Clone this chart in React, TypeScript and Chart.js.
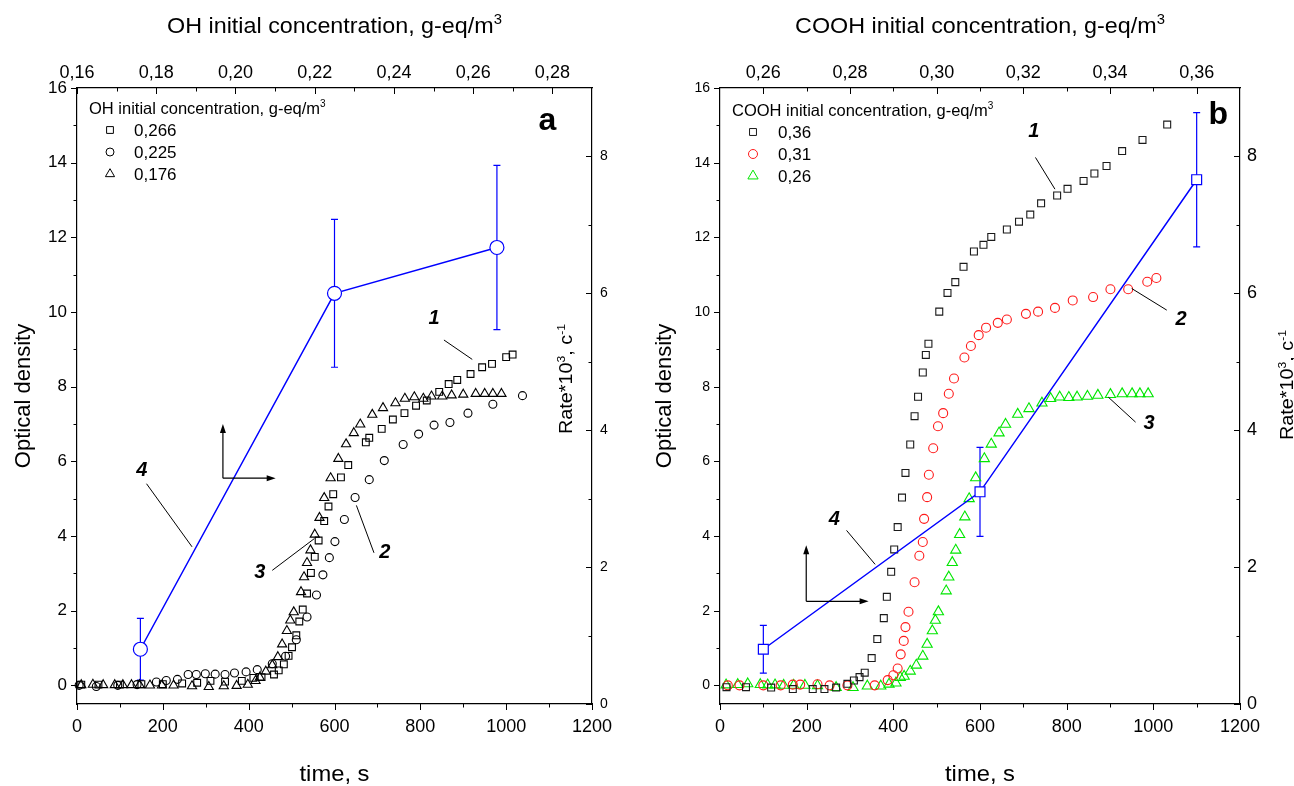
import React, { useEffect, useRef } from "react";
import { Chart, registerables } from "chart.js";

Chart.register(...registerables);

const FONT = "'Liberation Sans', Arial, Helvetica, sans-serif";

// ---------------- Panel a (OH) : optical density vs time ----------------
const aSqTime = [10, 50, 100, 150, 200, 245, 280, 311, 345, 384, 411, 430, 459, 470, 482, 493, 501, 511, 518, 526, 536, 545, 554, 563, 576, 586, 597, 615, 632, 673, 681, 710, 736, 763, 790, 815, 844, 866, 886, 917, 944, 967, 1000, 1015];
const aSqOD = [0.02, 0.02, 0.02, 0.03, 0.03, 0.05, 0.07, 0.12, 0.1, 0.12, 0.2, 0.22, 0.29, 0.4, 0.56, 0.79, 1.02, 1.34, 1.71, 2.03, 2.46, 3.01, 3.44, 3.88, 4.4, 4.79, 5.12, 5.57, 5.9, 6.51, 6.63, 6.87, 7.12, 7.29, 7.49, 7.63, 7.86, 8.07, 8.18, 8.34, 8.52, 8.61, 8.79, 8.86];

const aCiTime = [5, 45, 95, 140, 185, 208, 234, 259, 278, 299, 322, 345, 367, 394, 420, 455, 486, 511, 536, 558, 573, 588, 601, 623, 648, 681, 716, 760, 796, 832, 869, 911, 969, 1038];
const aCiOD = [0, -0.03, 0, 0.02, 0.09, 0.13, 0.16, 0.29, 0.29, 0.31, 0.3, 0.29, 0.33, 0.36, 0.42, 0.58, 0.78, 1.22, 1.83, 2.42, 2.96, 3.42, 3.85, 4.44, 5.03, 5.51, 6.02, 6.45, 6.73, 6.97, 7.04, 7.29, 7.53, 7.76];

const aTrTime = [10, 37, 61, 88, 107, 127, 146, 170, 198, 225, 268, 307, 342, 372, 398, 416, 426, 440, 455, 468, 478, 489, 497, 505, 522, 529, 536, 544, 554, 565, 576, 591, 609, 627, 645, 660, 688, 713, 742, 764, 786, 807, 826, 851, 873, 900, 929, 950, 969, 989];
const aTrOD = [0.01, 0.02, 0.01, 0.01, 0.01, 0.01, 0.01, 0, 0, 0, -0.02, -0.04, -0.02, -0.01, 0.02, 0.12, 0.21, 0.37, 0.54, 0.76, 1.1, 1.46, 1.74, 1.96, 2.5, 2.9, 3.28, 3.62, 4.04, 4.49, 5.02, 5.55, 6.07, 6.46, 6.76, 6.99, 7.25, 7.43, 7.56, 7.68, 7.72, 7.68, 7.74, 7.74, 7.77, 7.79, 7.81, 7.81, 7.81, 7.81];

// rate vs OH initial concentration (curve 4)
const aConc = [0.176, 0.225, 0.266];
const aRate = [0.8, 6.0, 6.67];
const aRateErr = [0.45, 1.08, 1.2];
const aLegendLabels = ["0,266", "0,225", "0,176"];

// ---------------- Panel b (COOH) ----------------
const bSqTime = [15, 60, 118, 168, 214, 241, 268, 294, 309, 322, 334, 350, 363, 378, 385, 395, 402, 410, 420, 428, 439, 449, 457, 468, 475, 481, 506, 525, 543, 562, 586, 608, 626, 662, 690, 716, 741, 778, 802, 839, 864, 892, 928, 975, 1032];
const bSqOD = [-0.05, -0.05, -0.06, -0.1, -0.1, -0.1, -0.06, 0.04, 0.13, 0.22, 0.34, 0.73, 1.24, 1.8, 2.37, 3.04, 3.64, 4.24, 5.03, 5.69, 6.45, 7.21, 7.73, 8.38, 8.85, 9.15, 10.01, 10.51, 10.8, 11.21, 11.62, 11.8, 12.01, 12.21, 12.42, 12.61, 12.91, 13.12, 13.3, 13.51, 13.71, 13.91, 14.31, 14.61, 15.02];

const bCiTime = [18, 45, 100, 140, 168, 185, 225, 253, 294, 357, 387, 400, 410, 417, 424, 428, 435, 449, 460, 468, 471, 478, 482, 492, 503, 515, 528, 540, 564, 579, 597, 614, 641, 662, 706, 734, 773, 814, 861, 901, 942, 986, 1007];
const bCiOD = [0, 0, 0, 0, 0.02, 0.02, 0.03, 0, 0, 0, 0.14, 0.27, 0.45, 0.83, 1.19, 1.56, 1.97, 2.76, 3.47, 3.84, 4.46, 5.04, 5.64, 6.35, 6.94, 7.29, 7.81, 8.22, 8.78, 9.09, 9.38, 9.58, 9.71, 9.8, 9.95, 10.01, 10.11, 10.31, 10.4, 10.61, 10.61, 10.81, 10.91];

const bTrTime = [14, 41, 64, 93, 110, 127, 147, 170, 196, 225, 268, 307, 340, 371, 390, 406, 416, 425, 439, 453, 468, 478, 490, 497, 504, 522, 528, 536, 544, 553, 565, 575, 590, 610, 626, 644, 659, 687, 713, 743, 763, 784, 805, 824, 848, 872, 901, 928, 951, 969, 988];
const bTrOD = [0.01, 0.02, 0.04, 0.02, 0.01, 0.01, 0, 0, 0, -0.01, -0.06, -0.06, -0.02, -0.02, 0.03, 0.06, 0.21, 0.24, 0.38, 0.54, 0.78, 1.1, 1.46, 1.74, 1.97, 2.53, 2.9, 3.29, 3.62, 4.04, 4.51, 5.0, 5.56, 6.07, 6.46, 6.76, 6.99, 7.26, 7.41, 7.56, 7.68, 7.72, 7.71, 7.72, 7.74, 7.77, 7.79, 7.81, 7.81, 7.81, 7.81];

// rate vs COOH initial concentration (curve 4)
const bConc = [0.26, 0.31, 0.36];
const bRate = [0.8, 3.1, 7.66];
const bRateErr = [0.35, 0.65, 0.98];
const bLegendLabels = ["0,36", "0,31", "0,26"];

// ---------------- ticks ----------------
const odTicks = [0, 2, 4, 6, 8, 10, 12, 14, 16];
const odMinorTicks = [1, 3, 5, 7, 9, 11, 13, 15];
const rateTicks = [0, 2, 4, 6, 8];
const rateMinorTicks = [1, 3, 5, 7];
const timeTicks = [0, 200, 400, 600, 800, 1000, 1200];
const timeMinorTicks = [100, 300, 500, 700, 900, 1100];
const ohTicks = [0.16, 0.18, 0.2, 0.22, 0.24, 0.26, 0.28];
const ohMinorTicks = [0.17, 0.19, 0.21, 0.23, 0.25, 0.27];
const coohTicks = [0.26, 0.28, 0.3, 0.32, 0.34, 0.36];
const coohMinorTicks = [0.27, 0.29, 0.31, 0.33, 0.35];

type Part = { t: string; sup?: boolean };
type MarkStyle = "rect" | "circle" | "triangle";

interface Series {
  t: number[];
  od: number[];
  style: MarkStyle;
  color: string;
  radius: number;
}

interface PanelSpec {
  left: number;
  width: number;
  yWidth: number;
  y2Width: number;
  yTickSize: number;
  y2TickSize: number;
  y2Pad: number;
  concMin: number;
  concMax: number;
  concTicks: number[];
  concMinor: number[];
  series: Series[];
  conc: number[];
  rate: number[];
  rateErr: number[];
  rateStyle: MarkStyle;
  rateRadius: number;
  topTitle: Part[];
  legendTitle: Part[];
  legendLabels: string[];
  legendX: number;
  legendTitleY: number;
  legendRowY: number[];
  legendSymX: number;
  legendTextX: number;
  leftTitleX: number;
  rateTitleX: number;
  rateTitleY: number;
  letter: string;
  letterPos: [number, number];
  numbers: { text: string; x: number; y: number }[];
  leaders: [number, number, number, number][];
  arrow: { x: number; y: number; xEnd: number; yEnd: number };
}

const BLUE = "#0000ff";

function drawRich(
  ctx: CanvasRenderingContext2D,
  parts: Part[],
  x: number,
  y: number,
  size: number,
  align: "left" | "center",
  rotate = 0,
  stretch = 1,
  weight = "normal"
) {
  ctx.save();
  ctx.translate(x, y);
  if (rotate) ctx.rotate(rotate);
  ctx.scale(stretch, 1);
  const mainFont = `${weight} ${size}px ${FONT}`;
  const supFont = `${weight} ${Math.round(size * 0.62)}px ${FONT}`;
  let w = 0;
  const widths = parts.map((p) => {
    ctx.font = p.sup ? supFont : mainFont;
    const m = ctx.measureText(p.t).width;
    w += m;
    return m;
  });
  let cx = align === "center" ? -w / 2 : 0;
  ctx.textAlign = "left";
  ctx.textBaseline = "alphabetic";
  ctx.fillStyle = "#000";
  const base = size * 0.36;
  parts.forEach((p, i) => {
    ctx.font = p.sup ? supFont : mainFont;
    ctx.fillText(p.t, cx, p.sup ? base - size * 0.42 : base);
    cx += widths[i];
  });
  ctx.restore();
}

function drawMarker(ctx: CanvasRenderingContext2D, style: MarkStyle, x: number, y: number, r: number, color: string) {
  ctx.save();
  ctx.strokeStyle = color;
  ctx.lineWidth = 1;
  ctx.beginPath();
  if (style === "circle") {
    ctx.arc(x, y, r, 0, Math.PI * 2);
  } else if (style === "rect") {
    const s = Math.SQRT1_2 * r;
    ctx.rect(x - s, y - s, 2 * s, 2 * s);
  } else {
    const a = (2 * Math.PI) / 3;
    ctx.moveTo(x, y - r);
    ctx.lineTo(x + Math.sin(a) * r, y - Math.cos(a) * r);
    ctx.lineTo(x + Math.sin(2 * a) * r, y - Math.cos(2 * a) * r);
    ctx.closePath();
  }
  ctx.stroke();
  ctx.restore();
}

function makeDecor(spec: PanelSpec) {
  return {
    id: "decor",
    beforeDatasetsDraw(chart: any) {
      const { ctx, scales } = chart;
      const sx2 = scales.x2;
      const sy2 = scales.y2;
      ctx.save();
      ctx.strokeStyle = BLUE;
      ctx.lineWidth = 1.2;
      spec.conc.forEach((c, i) => {
        const x = sx2.getPixelForValue(c);
        const yTop = sy2.getPixelForValue(spec.rate[i] + spec.rateErr[i]);
        const yBot = sy2.getPixelForValue(spec.rate[i] - spec.rateErr[i]);
        ctx.beginPath();
        ctx.moveTo(x, yTop);
        ctx.lineTo(x, yBot);
        ctx.moveTo(x - 3.5, yTop);
        ctx.lineTo(x + 3.5, yTop);
        ctx.moveTo(x - 3.5, yBot);
        ctx.lineTo(x + 3.5, yBot);
        ctx.stroke();
      });
      ctx.restore();
    },
    afterDraw(chart: any) {
      const { ctx, chartArea: ca, scales } = chart;
      const sx = scales.x;
      const sy = scales.y;
      const sx2 = scales.x2;
      const sy2 = scales.y2;
      const off = spec.left;

      // tick marks
      ctx.save();
      ctx.strokeStyle = "#000";
      ctx.lineWidth = 1;
      const MAJ = 6;
      const MIN = 3.5;
      const hMark = (scale: any, vals: number[], y0: number, dir: number, len: number) => {
        vals.forEach((v) => {
          const x = Math.round(scale.getPixelForValue(v)) + 0.5;
          ctx.beginPath();
          ctx.moveTo(x, y0);
          ctx.lineTo(x, y0 + dir * len);
          ctx.stroke();
        });
      };
      const vMark = (scale: any, vals: number[], x0: number, dir: number, len: number) => {
        vals.forEach((v) => {
          const y = Math.round(scale.getPixelForValue(v)) + 0.5;
          ctx.beginPath();
          ctx.moveTo(x0, y);
          ctx.lineTo(x0 + dir * len, y);
          ctx.stroke();
        });
      };
      vMark(sy, odTicks, ca.left, -1, MAJ);
      vMark(sy, odMinorTicks, ca.left, -1, MIN);
      vMark(sy2, rateTicks, ca.right, -1, MAJ);
      vMark(sy2, rateMinorTicks, ca.right, -1, MIN);
      hMark(sx, timeTicks, ca.bottom, 1, MAJ);
      hMark(sx, timeMinorTicks, ca.bottom, 1, MIN);
      hMark(sx2, spec.concTicks, ca.top, 1, MAJ);
      hMark(sx2, spec.concMinor, ca.top, 1, MIN);
      ctx.restore();

      const cxMid = (ca.left + ca.right) / 2;
      // axis titles
      drawRich(ctx, spec.topTitle, cxMid, 25, 22, "center", 0, 1.06);
      drawRich(ctx, [{ t: "time, s" }], cxMid, 773, 22, "center", 0, 1.08);
      drawRich(ctx, [{ t: "Optical density" }], spec.leftTitleX - off, (ca.top + ca.bottom) / 2, 22, "center", -Math.PI / 2);
      drawRich(
        ctx,
        [{ t: "Rate*10" }, { t: "3", sup: true }, { t: ", c" }, { t: "-1", sup: true }],
        spec.rateTitleX - off,
        spec.rateTitleY,
        18,
        "center",
        -Math.PI / 2,
        1.1
      );

      // legend
      drawRich(ctx, spec.legendTitle, spec.legendX - off, spec.legendTitleY, 16.5, "left");
      spec.series.forEach((s, i) => {
        drawMarker(ctx, s.style, spec.legendSymX - off, spec.legendRowY[i], s.radius, s.color);
        ctx.save();
        ctx.font = `17px ${FONT}`;
        ctx.fillStyle = "#000";
        ctx.textAlign = "left";
        ctx.textBaseline = "middle";
        ctx.fillText(spec.legendLabels[i], spec.legendTextX - off, spec.legendRowY[i] + 1);
        ctx.restore();
      });

      // curve numbers and leader lines
      ctx.save();
      ctx.fillStyle = "#000";
      ctx.font = `italic bold 20px ${FONT}`;
      ctx.textAlign = "center";
      ctx.textBaseline = "middle";
      spec.numbers.forEach((n) => {
        ctx.fillText(n.text, sx.getPixelForValue(n.x), sy.getPixelForValue(n.y));
      });
      ctx.font = `bold 32px ${FONT}`;
      ctx.fillText(spec.letter, sx.getPixelForValue(spec.letterPos[0]), sy.getPixelForValue(spec.letterPos[1]));
      ctx.strokeStyle = "#000";
      ctx.lineWidth = 1;
      spec.leaders.forEach(([x1, y1, x2, y2]) => {
        ctx.beginPath();
        ctx.moveTo(sx.getPixelForValue(x1), sy.getPixelForValue(y1));
        ctx.lineTo(sx.getPixelForValue(x2), sy.getPixelForValue(y2));
        ctx.stroke();
      });

      // axis arrows (which axis curve 4 refers to)
      const ox = sx.getPixelForValue(spec.arrow.x);
      const oy = sy.getPixelForValue(spec.arrow.y);
      const ex = sx.getPixelForValue(spec.arrow.xEnd);
      const ey = sy.getPixelForValue(spec.arrow.yEnd);
      ctx.lineWidth = 1.2;
      ctx.beginPath();
      ctx.moveTo(ox, oy);
      ctx.lineTo(ox, ey + 8);
      ctx.moveTo(ox, oy);
      ctx.lineTo(ex - 8, oy);
      ctx.stroke();
      ctx.beginPath();
      ctx.moveTo(ox, ey);
      ctx.lineTo(ox - 3, ey + 9);
      ctx.lineTo(ox + 3, ey + 9);
      ctx.closePath();
      ctx.fill();
      ctx.beginPath();
      ctx.moveTo(ex, oy);
      ctx.lineTo(ex - 9, oy - 3);
      ctx.lineTo(ex - 9, oy + 3);
      ctx.closePath();
      ctx.fill();
      ctx.restore();
    },
  };
}

function buildConfig(spec: PanelSpec): any {
  const tickFont = (size: number) => ({ family: FONT, size });
  const axisBase = {
    type: "linear",
    grid: { display: false, drawTicks: false, tickLength: 0 },
    border: { display: true, color: "#000", width: 1.2 },
  };
  const datasets: any[] = [
    {
      label: "rate",
      data: spec.conc.map((c, i) => ({ x: c, y: spec.rate[i] })),
      xAxisID: "x2",
      yAxisID: "y2",
      showLine: true,
      borderColor: BLUE,
      borderWidth: 1.5,
      pointStyle: spec.rateStyle,
      pointRadius: spec.rateRadius,
      pointBorderWidth: 1.2,
      pointBorderColor: BLUE,
      pointBackgroundColor: "#ffffff",
      clip: false,
    },
    ...spec.series.map((s) => ({
      label: s.style,
      data: s.t.map((t, i) => ({ x: t, y: s.od[i] })),
      xAxisID: "x",
      yAxisID: "y",
      showLine: false,
      pointStyle: s.style,
      pointRadius: s.radius,
      pointBorderWidth: 1.1,
      pointBorderColor: s.color,
      pointBackgroundColor: "rgba(0,0,0,0)",
      clip: false,
    })),
  ];
  return {
    type: "scatter",
    data: { datasets },
    plugins: [makeDecor(spec)],
    options: {
      animation: false,
      responsive: false,
      devicePixelRatio: 1,
      events: [],
      layout: { padding: 0 },
      plugins: { legend: { display: false }, tooltip: { enabled: false }, title: { display: false } },
      scales: {
        x: {
          ...axisBase,
          position: "bottom",
          min: 0,
          max: 1200,
          afterBuildTicks: (s: any) => {
            s.ticks = timeTicks.map((v) => ({ value: v }));
          },
          ticks: { font: tickFont(18), color: "#000", padding: 12, autoSkip: false, maxRotation: 0, callback: (v: any) => String(v) },
          afterFit: (s: any) => {
            s.height = 82;
          },
        },
        x2: {
          ...axisBase,
          position: "top",
          min: spec.concMin,
          max: spec.concMax,
          afterBuildTicks: (s: any) => {
            s.ticks = spec.concTicks.map((v) => ({ value: v }));
          },
          ticks: {
            font: tickFont(18),
            color: "#000",
            padding: 4,
            autoSkip: false,
            maxRotation: 0,
            callback: (v: any) => Number(v).toFixed(2).replace(".", ","),
          },
          afterFit: (s: any) => {
            s.height = 88;
          },
        },
        y: {
          ...axisBase,
          position: "left",
          min: -0.5,
          max: 16,
          afterBuildTicks: (s: any) => {
            s.ticks = odTicks.map((v) => ({ value: v }));
          },
          ticks: { font: tickFont(spec.yTickSize), color: "#000", padding: 10, autoSkip: false, callback: (v: any) => String(v) },
          afterFit: (s: any) => {
            s.width = spec.yWidth;
          },
        },
        y2: {
          ...axisBase,
          position: "right",
          min: 0,
          max: 9,
          afterBuildTicks: (s: any) => {
            s.ticks = rateTicks.map((v) => ({ value: v }));
          },
          ticks: { font: tickFont(spec.y2TickSize), color: "#000", padding: spec.y2Pad, autoSkip: false, callback: (v: any) => String(v) },
          afterFit: (s: any) => {
            s.width = spec.y2Width;
          },
        },
      },
    },
  };
}

const panelA: PanelSpec = {
  left: 0,
  width: 645,
  yWidth: 77,
  y2Width: 53,
  yTickSize: 17,
  y2TickSize: 14,
  y2Pad: 8,
  concMin: 0.16,
  concMax: 0.29,
  concTicks: ohTicks,
  concMinor: ohMinorTicks,
  series: [
    { t: aSqTime, od: aSqOD, style: "rect", color: "#000000", radius: 4.8 },
    { t: aCiTime, od: aCiOD, style: "circle", color: "#000000", radius: 4.0 },
    { t: aTrTime, od: aTrOD, style: "triangle", color: "#000000", radius: 5.3 },
  ],
  conc: aConc,
  rate: aRate,
  rateErr: aRateErr,
  rateStyle: "circle",
  rateRadius: 7,
  topTitle: [{ t: "OH initial concentration, g-eq/m" }, { t: "3", sup: true }],
  legendTitle: [{ t: "OH initial concentration, g-eq/m" }, { t: "3", sup: true }],
  legendLabels: aLegendLabels,
  legendX: 89,
  legendTitleY: 108,
  legendRowY: [130, 152, 174],
  legendSymX: 110,
  legendTextX: 134,
  leftTitleX: 22,
  rateTitleX: 566,
  rateTitleY: 379,
  letter: "a",
  letterPos: [1096, 15.1],
  numbers: [
    { text: "1", x: 832, y: 9.83 },
    { text: "2", x: 717, y: 3.55 },
    { text: "3", x: 426, y: 3.01 },
    { text: "4", x: 151, y: 5.76 },
  ],
  leaders: [
    [855, 9.25, 921, 8.73],
    [692, 3.55, 651, 4.82],
    [455, 3.08, 553, 3.93],
    [162, 5.4, 268, 3.71],
  ],
  arrow: { x: 340, y: 5.55, xEnd: 463, yEnd: 7.0 },
};

const panelB: PanelSpec = {
  left: 645,
  width: 649,
  yWidth: 75,
  y2Width: 54,
  yTickSize: 14,
  y2TickSize: 18,
  y2Pad: 7,
  concMin: 0.25,
  concMax: 0.37,
  concTicks: coohTicks,
  concMinor: coohMinorTicks,
  series: [
    { t: bSqTime, od: bSqOD, style: "rect", color: "#1a1a1a", radius: 4.9 },
    { t: bCiTime, od: bCiOD, style: "circle", color: "#ff1a1a", radius: 4.5 },
    { t: bTrTime, od: bTrOD, style: "triangle", color: "#00e600", radius: 5.9 },
  ],
  conc: bConc,
  rate: bRate,
  rateErr: bRateErr,
  rateStyle: "rect",
  rateRadius: 7,
  topTitle: [{ t: "COOH initial concentration, g-eq/m" }, { t: "3", sup: true }],
  legendTitle: [{ t: "COOH initial concentration, g-eq/m" }, { t: "3", sup: true }],
  legendLabels: bLegendLabels,
  legendX: 732,
  legendTitleY: 110,
  legendRowY: [132, 154, 176],
  legendSymX: 753,
  legendTextX: 778,
  leftTitleX: 663,
  rateTitleX: 1287,
  rateTitleY: 385,
  letter: "b",
  letterPos: [1150, 15.28],
  numbers: [
    { text: "1", x: 724, y: 14.83 },
    { text: "2", x: 1064, y: 9.8 },
    { text: "3", x: 990, y: 7.01 },
    { text: "4", x: 264, y: 4.44 },
  ],
  leaders: [
    [728, 14.14, 773, 13.29],
    [950, 10.63, 1031, 10.05],
    [896, 7.72, 959, 7.05],
    [292, 4.15, 358, 3.24],
  ],
  arrow: { x: 199, y: 2.25, xEnd: 343, yEnd: 3.75 },
};

function Panel({ spec }: { spec: PanelSpec }) {
  const ref = useRef<HTMLCanvasElement | null>(null);
  useEffect(() => {
    if (!ref.current) return;
    const chart = new Chart(ref.current, buildConfig(spec));
    return () => chart.destroy();
  }, [spec]);
  return (
    <canvas
      ref={ref}
      width={spec.width}
      height={786}
      style={{ position: "absolute", left: spec.left, top: 0, width: spec.width, height: 786 }}
    />
  );
}

export default function App() {
  return (
    <div style={{ position: "absolute", left: 0, top: 0, width: 1294, height: 786, background: "#fff", overflow: "hidden" }}>
      <Panel spec={panelA} />
      <Panel spec={panelB} />
    </div>
  );
}
